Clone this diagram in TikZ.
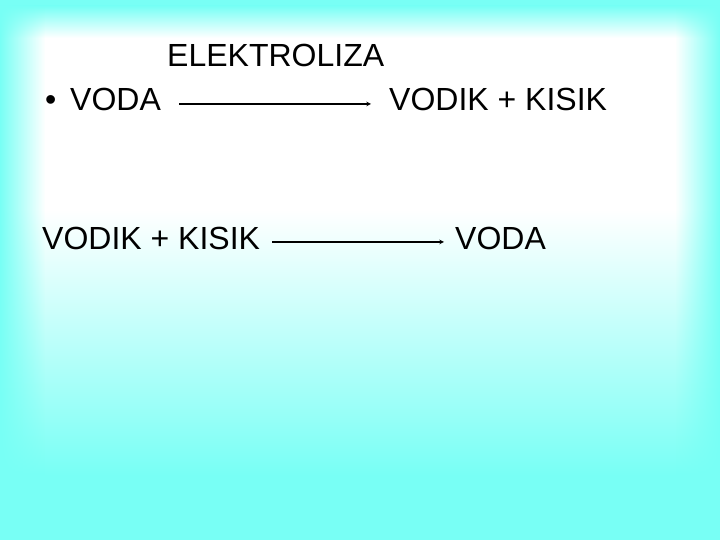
\documentclass[tikz,border=0pt]{standalone}
\usepackage{fontspec}
\setmainfont{Liberation Sans}
\usepackage{tikz}
\usetikzlibrary{arrows,positioning,fadings}
\definecolor{slidecyan}{RGB}{120,255,245}
\tikzfading[name=edgefade, left color=transparent!0, right color=transparent!100]
\tikzfading[name=edgefaderight, left color=transparent!100, right color=transparent!0]

\begin{document}
\begin{tikzpicture}[
  x=1pt, y=1pt,
  word/.style={inner sep=0pt, anchor=base west, font=\fontsize{32}{38}\selectfont},
  reaction/.style={draw, ->, >=stealth, line width=1.1pt}
]
% background
\fill[slidecyan] (0,0) rectangle (720,540);
\shade[top color=slidecyan, bottom color=white] (0,534) rectangle (720,502);
\fill[white] (0,502) rectangle (720,330);
\shade[top color=white, bottom color=slidecyan] (0,330) rectangle (720,65);
\fill[slidecyan, path fading=edgefade] (0,0) rectangle (45,540);
\fill[slidecyan, path fading=edgefaderight] (675,0) rectangle (720,540);
\useasboundingbox (0,0) rectangle (720,540);

% first reaction
\node[word] (label) at (167,473) {ELEKTROLIZA};
\node[word] (bullet) at (45,429) {•};
\node[word] (voda1) at (70,429) {VODA};
\node[word] (vodik1) at (389,429) {VODIK + KISIK};
\draw[reaction] ([xshift=18pt, yshift=7pt]voda1.base east) -- ([xshift=-18pt, yshift=7pt]vodik1.base west);

% second reaction
\node[word] (vodik2) at (42,290) {VODIK + KISIK};
\node[word] (voda2) at (455,290) {VODA};
\draw[reaction] ([xshift=12pt, yshift=8pt]vodik2.base east) -- ([xshift=-11pt, yshift=8pt]voda2.base west);
\end{tikzpicture}
\end{document}
